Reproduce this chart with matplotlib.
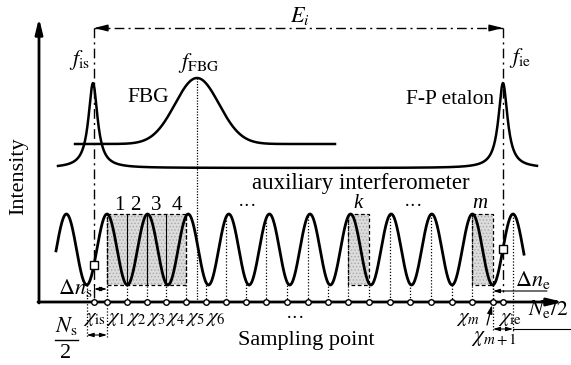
import numpy as np
import matplotlib.pyplot as plt
from matplotlib.patches import Rectangle

plt.rcParams['font.family'] = ['Liberation Serif', 'DejaVu Serif']
plt.rcParams['mathtext.fontset'] = 'stix'
plt.rcParams['hatch.linewidth'] = 0.6

# everything is in pixel units of the 571x365 picture, y grows downward
axis_x0, axis_y = 39, 302
x_is, x_ie = 94, 503
sample_x = [107, 127, 147, 166, 186, 206, 226, 246, 266, 287,
            308, 328, 348, 369, 390, 410, 431, 452, 472, 493]
wave_mid, wave_amp, wave_period, wave_crest = 249.5, 35.5, 40.6, 107
wave_span = (56, 524)

# F-P etalon peaks (Lorentzian) and FBG peak (Gaussian)
fp_peaks = [93, 503]
fp_base, fp_height, fp_width, fp_span = 168, 85, 5.5, (58, 537)
fbg_center, fbg_base, fbg_height, fbg_sigma, fbg_span = 197, 144, 66, 22, (75, 335)

# shaded windows on the interference fringes
box_spans = [(107, 186), (348, 369), (472, 493)]
box_names = ['', 'k', 'm']
box_name_x = [0, 358, 480]
inner_lines = [127, 147, 166]
fringe_nums = ['1', '2', '3', '4']
fringe_num_x = [119, 135, 156, 177]

chi_labels = [r'$\chi_{\mathrm{is}}$', r'$\chi_1$', r'$\chi_2$', r'$\chi_3$', r'$\chi_4$',
              r'$\chi_5$', r'$\chi_6$', r'$\chi_m$', r'$\chi_{\mathrm{ie}}$']
chi_label_x = [83, 106, 126, 146, 165, 185, 205, 456, 498]


def wave(x):
    return wave_mid - wave_amp * np.cos(2 * np.pi * (np.asarray(x) - wave_crest) / wave_period)


fig = plt.figure(figsize=(5.71, 3.65), dpi=100)
ax = fig.add_axes([0, 0, 1, 1])
ax.set_xlim(0, 571)
ax.set_ylim(365, 0)
ax.axis('off')

# axes with arrows
ax.annotate('', xy=(axis_x0, 18), xytext=(axis_x0, axis_y + 1),
            arrowprops=dict(arrowstyle='-|>,head_length=0.9,head_width=0.22', lw=2, color='k', shrinkA=0, shrinkB=0))
ax.annotate('', xy=(563, axis_y), xytext=(axis_x0 - 1, axis_y),
            arrowprops=dict(arrowstyle='-|>,head_length=0.9,head_width=0.22', lw=2, color='k', shrinkA=0, shrinkB=0))
ax.text(19, 176, 'Intensity', rotation=90, ha='center', va='center', fontsize=16)
ax.text(306, 340, 'Sampling point', ha='center', va='center', fontsize=16)

# top curves
xs = np.linspace(*fp_span, 800)
fp = fp_base - sum(fp_height * fp_width**2 / ((xs - p)**2 + fp_width**2) for p in fp_peaks)
ax.plot(xs, fp, color='k', lw=1.8)
xs = np.linspace(*fbg_span, 600)
ax.plot(xs, fbg_base - fbg_height * np.exp(-(xs - fbg_center)**2 / (2 * fbg_sigma**2)), color='k', lw=1.8)
ax.plot([fbg_center, fbg_center], [fbg_base - fbg_height, axis_y], color='k', lw=0.9, ls=(0, (1, 1.2)))

ax.text(148, 97, 'FBG', ha='center', va='center', fontsize=15.5)
ax.text(450, 100, 'F-P etalon', ha='center', va='center', fontsize=15.5)
ax.text(361, 184, 'auxiliary interferometer', ha='center', va='center', fontsize=16.5)
ax.text(80, 60, r'$f_{\mathrm{is}}$', ha='center', va='center', fontsize=16)
ax.text(199, 63, r'$f_{\mathrm{FBG}}$', ha='center', va='center', fontsize=16)
ax.text(520, 58, r'$f_{\mathrm{ie}}$', ha='center', va='center', fontsize=16)

# E_i span
dashdot = (0, (7, 3, 1.5, 3))
ax.plot([x_is, x_ie], [28, 28], color='k', lw=1, ls=dashdot)
ax.plot([x_is, x_is], [28, 298], color='k', lw=1, ls=dashdot)
ax.plot([x_ie, x_ie], [28, 292], color='k', lw=1, ls=dashdot)
for tip, tail in [(x_is, x_is + 14), (x_ie, x_ie - 14)]:
    ax.annotate('', xy=(tip, 28), xytext=(tail, 28),
                arrowprops=dict(arrowstyle='-|>,head_length=0.8,head_width=0.2', lw=1, color='k', shrinkA=0, shrinkB=0))
ax.text(300, 16, r'$E_i$', ha='center', va='center', fontsize=16)

# shaded windows
for (x0, x1), name, nx in zip(box_spans, box_names, box_name_x):
    ax.add_patch(Rectangle((x0, 214), x1 - x0, 71, facecolor='#dcdcdc', edgecolor='#a8a8a8',
                           hatch='.....', lw=0, zorder=1))
    ax.add_patch(Rectangle((x0, 214), x1 - x0, 71, fill=False, edgecolor='k', lw=0.9, ls=(0, (3, 2)), zorder=2))
    if name:
        ax.text(nx, 204, name, ha='center', va='center', fontsize=15, style='italic')
for x in inner_lines:
    ax.plot([x, x], [214, 285], color='k', lw=0.8, zorder=2)
for t, x in zip(fringe_nums, fringe_num_x):
    ax.text(x, 205, t, ha='center', va='center', fontsize=15)
ax.text(248, 206, '···', ha='center', va='center', fontsize=14)
ax.text(414, 206, '···', ha='center', va='center', fontsize=14)
ax.text(296, 318, '···', ha='center', va='center', fontsize=14)

# fringes and sampling points
xs = np.linspace(*wave_span, 1200)
ax.plot(xs, wave(xs), color='k', lw=2, zorder=3)
dotted = (0, (1, 1.5))
for x in sample_x:
    ax.plot([x, x], [wave(x), axis_y], color='k', lw=0.9, ls=dotted, zorder=2)
for x, bottom in [(86.7, 337), (107, 337), (493, 332), (513, 332)]:
    ax.plot([x, x], [wave(x), bottom], color='k', lw=0.9, ls=dotted, zorder=2)
pts = sample_x + [x_is, x_ie]
ax.plot(pts, [axis_y] * len(pts), 'o', ms=4, mfc='white', mec='k', mew=1, zorder=5)
ax.plot([x_is, x_ie], wave([x_is, x_ie]), 's', ms=6, mfc='white', mec='k', mew=1, zorder=5)

for t, x in zip(chi_labels, chi_label_x):
    ax.text(x, 318, t, ha='left', va='center', fontsize=15)
ax.text(471, 338, r'$\chi_{m+1}$', ha='left', va='center', fontsize=15.5)
ax.annotate('', xy=(492, 305), xytext=(487, 325),
            arrowprops=dict(arrowstyle='-|>,head_length=0.5,head_width=0.15', lw=0.9, color='k', shrinkA=0, shrinkB=0))

# offsets at both ends
small = dict(arrowstyle='<|-|>,head_length=0.4,head_width=0.12', lw=0.8, color='k', shrinkA=0, shrinkB=0)
ax.text(75, 288, r'$\Delta n_{\mathrm{s}}$', ha='center', va='center', fontsize=16)
ax.plot([x_is, x_is], [285, 293], color='k', lw=0.8)
ax.annotate('', xy=(107, 289), xytext=(x_is, 289), arrowprops=small)
ax.annotate('', xy=(107, 335), xytext=(86.7, 335), arrowprops=small)
ax.text(66, 326, r'$N_{\mathrm{s}}$', ha='center', va='center', fontsize=16)
ax.plot([55, 78], [340, 340], color='k', lw=1)
ax.text(66, 354, '2', ha='center', va='center', fontsize=16)

ax.text(533, 280, r'$\Delta n_{\mathrm{e}}$', ha='center', va='center', fontsize=16)
ax.annotate('', xy=(493, 291), xytext=(547, 291),
            arrowprops=dict(arrowstyle='-|>,head_length=0.4,head_width=0.12', lw=0.8, color='k', shrinkA=0, shrinkB=0))
ax.annotate('', xy=(513, 329), xytext=(493, 329), arrowprops=small)
ax.plot([513, 571], [329, 329], color='k', lw=0.8)
ax.text(528, 309, r'$N_{\mathrm{e}}/2$', ha='left', va='center', fontsize=15.5)

fig.savefig('out.png', dpi=100)
